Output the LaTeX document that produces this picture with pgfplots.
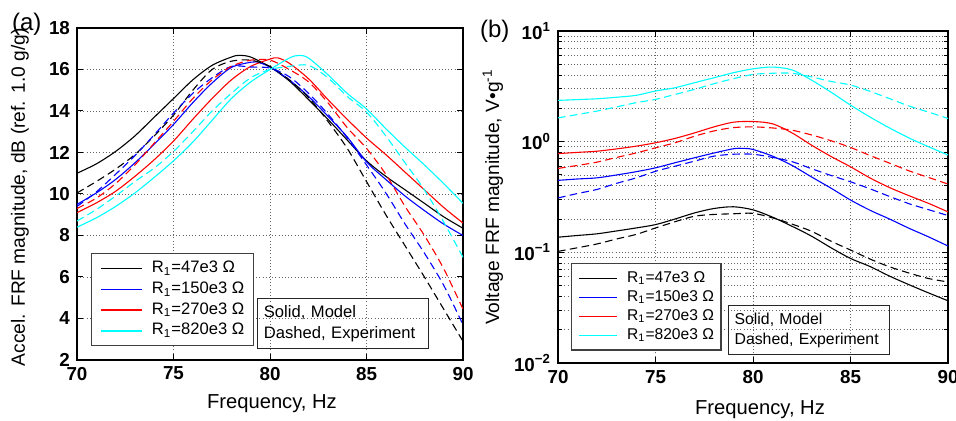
\documentclass[border=0pt]{standalone}
\usepackage{pgfplots}
\pgfplotsset{compat=1.18}
\usepackage{fontspec}
\setmainfont{Liberation Sans}
\definecolor{mcyan}{rgb}{0,1,1}
\definecolor{mblue}{rgb}{0,0,1}
\definecolor{mred}{rgb}{1,0,0}
\begin{document}
\begin{tikzpicture}
\useasboundingbox (0pt,0pt) rectangle (478pt,210.5pt);
\pgfplotsset{
  common/.style={
    scale only axis, anchor=south west, clip mode=individual,
    xmin=70, xmax=90, xtick={70,75,80,85,90},
    xticklabels={70,75,80,85,90},
    tick align=inside,
    major tick length=3pt, minor tick length=1.8pt,
    axis line style={line width=0.8pt},
    every tick/.style={black, line width=0.5pt},
    major grid style={black!60, line width=0.45pt, dash pattern=on 0.5pt off 1.1pt},
    minor grid style={black!60, line width=0.45pt, dash pattern=on 0.5pt off 1.1pt},
    tick label style={font=\fontsize{9.4}{10}\selectfont\bfseries},
    xlabel style={font=\fontsize{10.1}{12}\selectfont},
    ylabel style={font=\fontsize{9.6}{12}\selectfont},
    every axis plot/.append style={line width=0.55pt},
    legend cell align=left,
  },
  dsh/.style={dash pattern=on 3.8pt off 2.2pt},
}
% ---------------- panel (a)
\begin{axis}[common,
  at={(38.5pt,30.5pt)}, width=193pt, height=166pt,
  ymin=2, ymax=18, ytick={2,4,6,8,10,12,14,16,18},
  yticklabels={2,4,6,8,10,12,14,16,18},
  grid=major,
  xlabel={Frequency, Hz},
  ylabel={Accel. FRF magnitude, dB (ref. 1.0 g/g)},
  xlabel style={at={(axis description cs:0.505,-0.13)}, anchor=center},
  ylabel style={at={(axis description cs:-0.148,0.49)}, anchor=center},
  legend image code/.code={\draw[#1, line width=0.75pt] (0pt,0pt) -- (20.5pt,0pt);},
  legend style={at={(axis description cs:0.036,0.322)}, anchor=north west,
    draw=black!75, line width=0.6pt, inner xsep=4.5pt, inner ysep=3.6pt,
    row sep=2.55pt, column sep=4.5pt,
    font=\fontsize{8.3}{9}\selectfont,
    nodes={inner sep=0pt, text height=6pt, text depth=1.8pt}},
]
\addplot[black, smooth] coordinates {(70,11.0)(71,11.45)(72,12.05)(73,12.8)(74,13.7)(75,14.6)(76,15.5)(77,16.2)(78,16.6)(78.4,16.68)(79,16.6)(80,16.12)(81,15.45)(82,14.55)(83,13.6)(84,12.6)(85,11.6)(86,10.85)(87,10.2)(88,9.55)(89,8.9)(90,8.35)};
\addlegendentry{R\textsubscript{1}=47e3 Ω}
\addplot[mblue, smooth] coordinates {(70,9.5)(71,10.05)(72,10.7)(73,11.5)(74,12.4)(75,13.35)(76,14.4)(77,15.35)(78,16.1)(79,16.35)(79.3,16.37)(80,16.12)(81,15.5)(82,14.7)(83,13.75)(84,12.75)(85,11.55)(86,10.7)(87,9.9)(88,9.2)(89,8.55)(90,8.0)};
\addlegendentry{R\textsubscript{1}=150e3 Ω}
\addplot[mred, smooth] coordinates {(70,9.1)(71,9.57)(72,10.13)(73,10.85)(74,11.65)(75,12.55)(76,13.6)(77,14.6)(78,15.5)(79,16.15)(80,16.5)(80.4,16.56)(81,16.3)(82,15.55)(83,14.55)(84,13.6)(85,12.7)(86,11.9)(87,11.05)(88,10.2)(89,9.35)(90,8.6)};
\addlegendentry{R\textsubscript{1}=270e3 Ω}
\addplot[mcyan, smooth] coordinates {(70,8.4)(71,8.85)(72,9.4)(73,10.05)(74,10.8)(75,11.6)(76,12.5)(77,13.55)(78,14.6)(79,15.4)(80,16.0)(81,16.55)(81.5,16.68)(82,16.55)(83,15.75)(84,14.85)(85,14.1)(86,13.15)(87,12.25)(88,11.4)(89,10.5)(90,9.55)};
\addlegendentry{R\textsubscript{1}=820e3 Ω}
\addplot[black, dsh, smooth, forget plot] coordinates {(70,10.05)(71,10.6)(72,11.2)(73,11.9)(74,12.8)(75,13.8)(76,15.0)(77,16.0)(78,16.4)(79,16.45)(80,16.15)(81,15.5)(82,14.65)(83,13.5)(84,12.2)(85,10.6)(86,9.0)(87,7.5)(88,6.0)(89,4.45)(90,2.9)};
\addplot[mblue, dsh, smooth, forget plot] coordinates {(70,9.4)(71,10.1)(72,10.95)(73,11.85)(74,12.85)(75,13.9)(76,14.85)(77,15.6)(78,16.15)(79,16.12)(80,16.07)(81,15.65)(82,14.85)(83,13.85)(84,12.7)(85,11.4)(86,10.05)(87,8.55)(88,7.15)(89,5.6)(90,3.7)};
\addplot[mred, dsh, smooth, forget plot] coordinates {(70,9.3)(71,9.8)(72,10.5)(73,11.4)(74,12.45)(75,13.5)(76,14.6)(77,15.5)(78,16.15)(79,16.45)(80,16.45)(81,16.0)(82,15.4)(83,14.4)(84,13.2)(85,12.2)(86,10.95)(87,9.4)(88,8.0)(89,6.4)(90,4.45)};
\addplot[mcyan, dsh, smooth, forget plot] coordinates {(70,8.7)(71,9.25)(72,9.9)(73,10.6)(74,11.25)(75,12.05)(76,13.0)(77,14.0)(78,14.85)(79,15.6)(80,16.0)(81,16.15)(82,16.2)(83,15.6)(84,14.7)(85,13.95)(86,12.8)(87,11.5)(88,10.2)(89,8.65)(90,6.95)};
\node[draw=black!85, line width=0.6pt, anchor=north west, align=left,
  font=\fontsize{8.3}{10.5}\selectfont, inner xsep=3.2pt, inner ysep=2.5pt,
  text width=79pt, minimum height=25pt]
  at (axis description cs:0.466,0.187) {Solid, Model\\Dashed, Experiment};
\node[font=\fontsize{12}{14}\selectfont] at (axis description cs:-0.13,1.012) {(a)};
\end{axis}
% ---------------- panel (b)
\begin{axis}[common,
  at={(279pt,29pt)}, width=195pt, height=166pt,
  ymode=log, ymin=0.01, ymax=10,
  ytick={0.01,0.1,1,10},
  yticklabels={10\textsuperscript{−2},10\textsuperscript{−1},10\textsuperscript{0},10\textsuperscript{1}},
  grid=both,
  xlabel={Frequency, Hz},
  ylabel={Voltage FRF magnitude, V•g\textsuperscript{-1}},
  xlabel style={at={(axis description cs:0.518,-0.142)}, anchor=center},
  ylabel style={at={(axis description cs:-0.167,0.5)}, anchor=center},
  legend image code/.code={\draw[#1, line width=0.75pt] (0pt,0pt) -- (18.8pt,0pt);},
  legend style={at={(axis description cs:0.033,0.301)}, anchor=north west,
    draw=black!75, line width=0.6pt, inner xsep=3.5pt, inner ysep=3.6pt,
    row sep=2pt, column sep=4.8pt,
    font=\fontsize{7.8}{9}\selectfont,
    nodes={inner sep=0pt, text height=5.8pt, text depth=1.7pt}},
]
\addplot[black, smooth] coordinates {(70,0.137)(71,0.142)(72,0.147)(73,0.156)(74,0.166)(75,0.178)(76,0.20)(77,0.227)(78,0.249)(79,0.258)(80,0.242)(81,0.208)(82,0.172)(83,0.14)(84,0.11)(85,0.088)(86,0.0745)(87,0.061)(88,0.051)(89,0.043)(90,0.0365)};
\addlegendentry{R\textsubscript{1}=47e3 Ω}
\addplot[mblue, smooth] coordinates {(70,0.447)(71,0.46)(72,0.471)(73,0.50)(74,0.535)(75,0.58)(76,0.645)(77,0.715)(78,0.79)(79,0.863)(79.5,0.87)(80,0.85)(81,0.74)(82,0.61)(83,0.48)(84,0.38)(85,0.297)(86,0.24)(87,0.2)(88,0.165)(89,0.138)(90,0.114)};
\addlegendentry{R\textsubscript{1}=150e3 Ω}
\addplot[mred, smooth] coordinates {(70,0.78)(71,0.80)(72,0.82)(73,0.86)(74,0.91)(75,0.977)(76,1.07)(77,1.2)(78,1.36)(79,1.50)(80,1.52)(81,1.45)(82,1.2)(83,0.93)(84,0.735)(85,0.593)(86,0.47)(87,0.385)(88,0.325)(89,0.277)(90,0.232)};
\addlegendentry{R\textsubscript{1}=270e3 Ω}
\addplot[mcyan, smooth] coordinates {(70,2.36)(71,2.40)(72,2.44)(73,2.52)(74,2.62)(75,2.87)(76,3.07)(77,3.41)(78,3.78)(79,4.2)(80,4.55)(81,4.72)(82,4.45)(83,3.6)(84,2.8)(85,2.14)(86,1.67)(87,1.33)(88,1.08)(89,0.9)(90,0.757)};
\addlegendentry{R\textsubscript{1}=820e3 Ω}
\addplot[black, dsh, smooth, forget plot] coordinates {(70,0.102)(71,0.110)(72,0.119)(73,0.132)(74,0.145)(75,0.166)(76,0.189)(77,0.212)(78,0.22)(79,0.223)(80,0.225)(81,0.205)(82,0.18)(83,0.155)(84,0.126)(85,0.105)(86,0.087)(87,0.074)(88,0.065)(89,0.058)(90,0.054)};
\addplot[mblue, dsh, smooth, forget plot] coordinates {(70,0.31)(71,0.34)(72,0.37)(73,0.42)(74,0.47)(75,0.54)(76,0.60)(77,0.667)(78,0.74)(79,0.77)(80,0.77)(81,0.72)(82,0.66)(83,0.57)(84,0.495)(85,0.434)(86,0.375)(87,0.32)(88,0.275)(89,0.243)(90,0.215)};
\addplot[mred, dsh, smooth, forget plot] coordinates {(70,0.573)(71,0.61)(72,0.653)(73,0.72)(74,0.79)(75,0.88)(76,0.977)(77,1.12)(78,1.25)(79,1.34)(80,1.36)(81,1.33)(82,1.27)(83,1.15)(84,1.02)(85,0.887)(86,0.75)(87,0.64)(88,0.545)(89,0.475)(90,0.414)};
\addplot[mcyan, dsh, smooth, forget plot] coordinates {(70,1.64)(71,1.76)(72,1.89)(73,2.06)(74,2.25)(75,2.41)(76,2.67)(77,2.97)(78,3.34)(79,3.71)(80,4.05)(81,4.15)(82,4.15)(83,3.85)(84,3.5)(85,3.25)(86,2.85)(87,2.45)(88,2.1)(89,1.85)(90,1.62)};
\node[draw=black!85, line width=0.6pt, anchor=north west, align=left,
  font=\fontsize{7.9}{10}\selectfont, inner xsep=3pt, inner ysep=2.5pt,
  text width=74.5pt, minimum height=24.5pt]
  at (axis description cs:0.436,0.175) {Solid, Model\\Dashed, Experiment};
\node[font=\fontsize{12}{14}\selectfont] at (axis description cs:-0.162,1.0) {(b)};
\end{axis}
\end{tikzpicture}
\end{document}
